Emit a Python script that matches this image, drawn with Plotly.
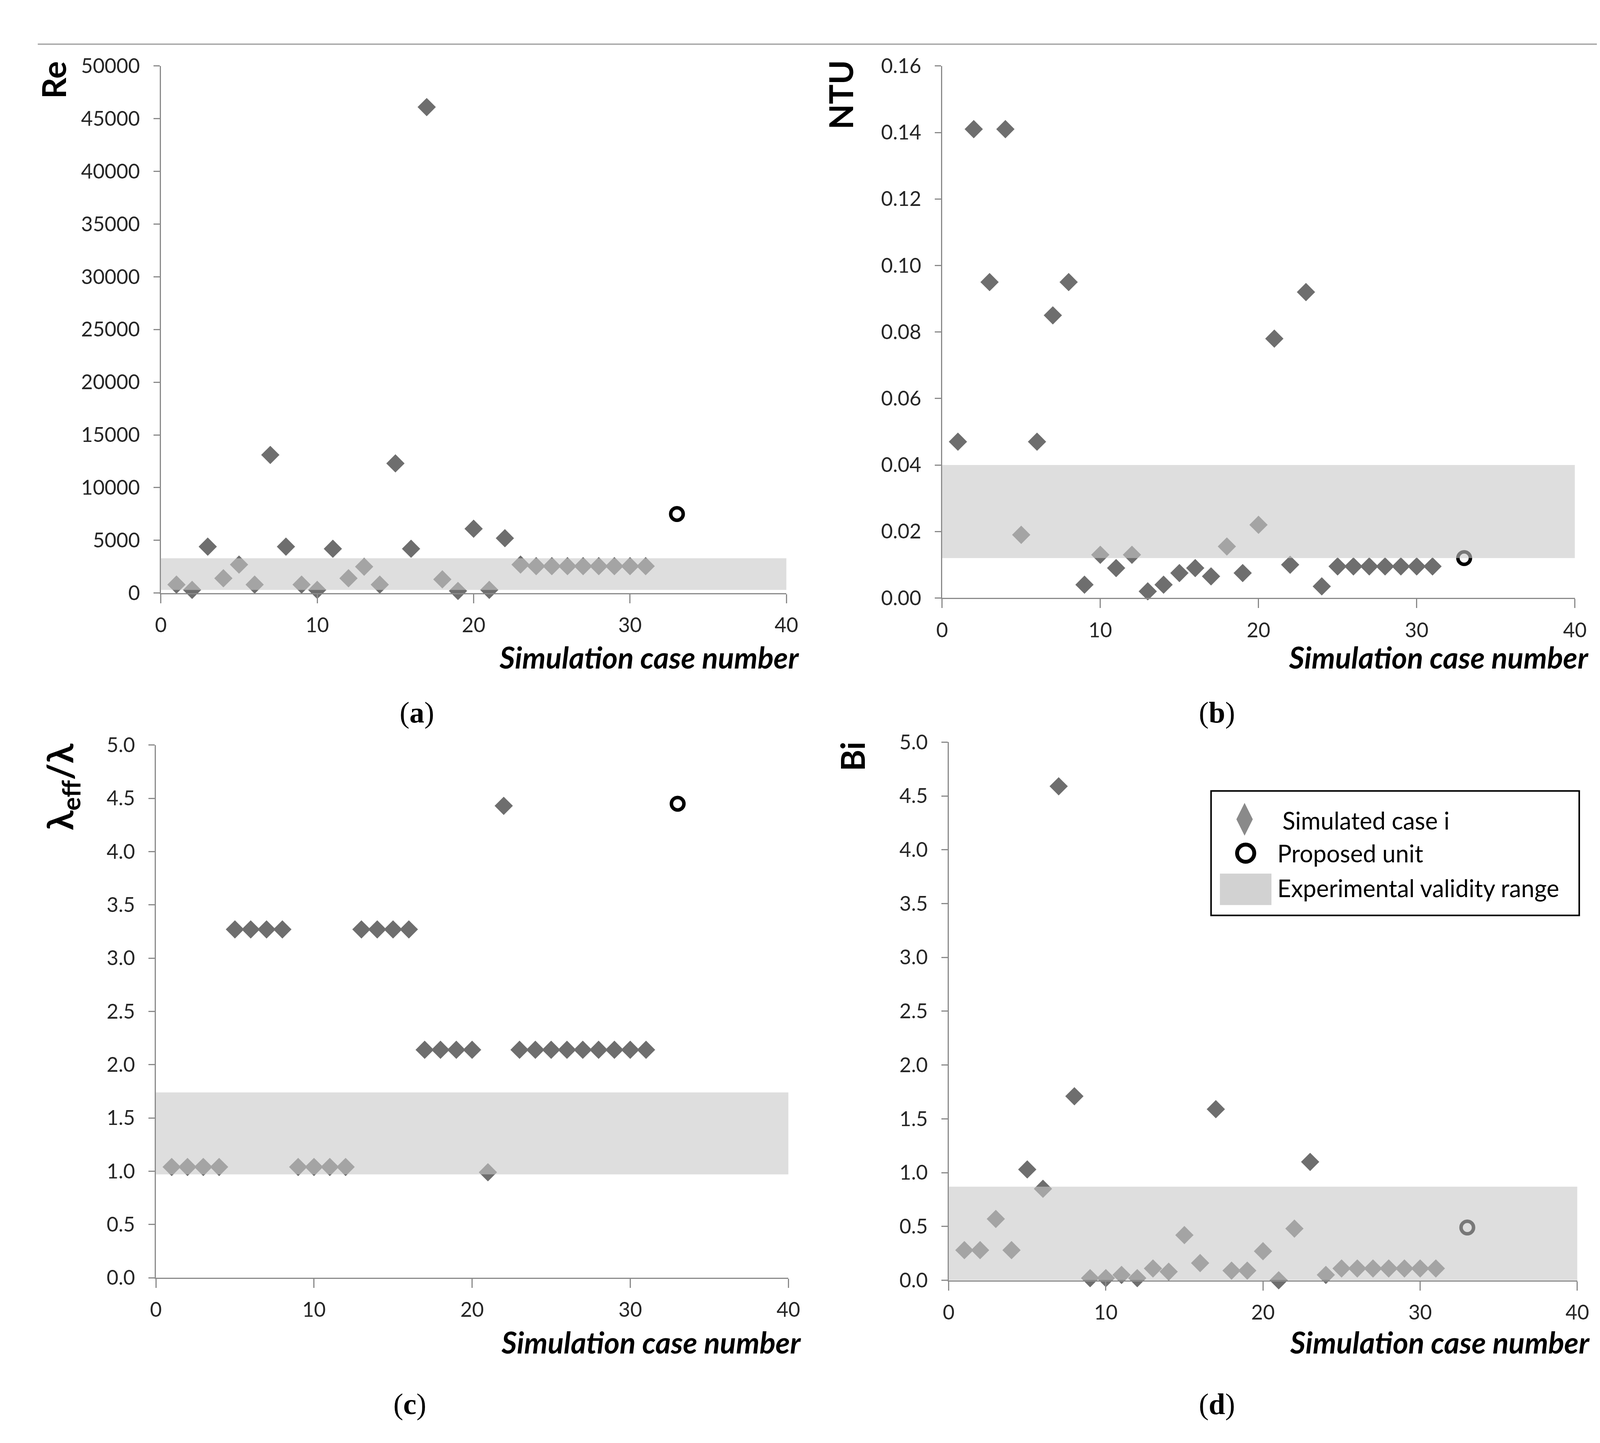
import plotly.graph_objects as go

# simulation cases 1..31 and the proposed unit (case 33)
cases = [1, 2, 3, 4, 5, 6, 7, 8, 9, 10, 11, 12, 13, 14, 15, 16,
         17, 18, 19, 20, 21, 22, 23, 24, 25, 26, 27, 28, 29, 30, 31]
proposed_case = [33]

re_vals = [800, 300, 4400, 1400, 2700, 800, 13100, 4400, 800, 300, 4200,
           1400, 2500, 800, 12300, 4200, 46100, 1300, 200, 6100, 300, 5200,
           2700, 2550, 2550, 2550, 2550, 2550, 2550, 2550, 2550]
ntu_vals = [0.047, 0.141, 0.095, 0.141, 0.019, 0.047, 0.085, 0.095, 0.004,
            0.013, 0.009, 0.013, 0.002, 0.004, 0.0075, 0.009, 0.0065, 0.0155,
            0.0075, 0.022, 0.078, 0.010, 0.092, 0.0035, 0.0095, 0.0095,
            0.0095, 0.0095, 0.0095, 0.0095, 0.0095]
lam_vals = [1.04, 1.04, 1.04, 1.04, 3.27, 3.27, 3.27, 3.27, 1.04, 1.04, 1.04,
            1.04, 3.27, 3.27, 3.27, 3.27, 2.14, 2.14, 2.14, 2.14, 0.99, 4.43,
            2.14, 2.14, 2.14, 2.14, 2.14, 2.14, 2.14, 2.14, 2.14]
bi_vals = [0.28, 0.28, 0.57, 0.28, 1.03, 0.85, 4.59, 1.71, 0.02, 0.02, 0.05,
           0.02, 0.11, 0.08, 0.42, 0.16, 1.59, 0.09, 0.09, 0.27, 0.00, 0.48,
           1.10, 0.05, 0.11, 0.11, 0.11, 0.11, 0.11, 0.11, 0.11]

proposed_re = [7500]
proposed_ntu = [0.012]
proposed_lam = [4.45]
proposed_bi = [0.49]

# experimental validity ranges (y low, y high) and their x extent
band_re = [300, 3300]
band_ntu = [0.012, 0.040]
band_lam = [0.97, 1.74]
band_bi = [0, 0.87]
band_x = [-0.2, 40]
band_x_c = [0, 40.3]

y_ranges = [[0, 50000], [0, 0.16], [0, 5], [0, 5]]
y_dticks = [5000, 0.02, 0.5, 0.5]
y_formats = ["d", ".2f", ".1f", ".1f"]
y_titles = ["Re", "NTU", "λ<sub>eff</sub>/λ", "Bi"]
panel_labels = ["(<b>a</b>)", "(<b>b</b>)", "(<b>c</b>)", "(<b>d</b>)"]

FONT = "Lato"
MARK = "#6e6e6e"
AXC = "#8a8a8a"
TXT = "#262626"

series = [re_vals, ntu_vals, lam_vals, bi_vals]
proposed = [proposed_re, proposed_ntu, proposed_lam, proposed_bi]
bands = [band_re, band_ntu, band_lam, band_bi]
band_xs = [band_x, band_x, band_x_c, band_x]

x_domains = [[0.0949, 0.4859], [0.5832, 0.9787], [0.0918, 0.4871], [0.5873, 0.9802]]
y_domains = [[0.5933, 0.9648], [0.5898, 0.9648], [0.1107, 0.4861], [0.1089, 0.4882]]
ytitle_pos = [(0.0275, 0.9548), (0.5197, 0.9445), (0.0331, 0.4565), (0.5269, 0.4782)]
ytitle_size = [84, 84, 92, 84]
xtitle_pos = [(0.4943, 0.5483), (0.9877, 0.5483), (0.4955, 0.0655), (0.9886, 0.0655)]
label_pos = [(0.255, 0.509), (0.755, 0.509), (0.2504, 0.0217), (0.755, 0.0217)]

fig = go.Figure()
annotations = []
shapes = []
layout_axes = {}

for i in range(4):
    n = "" if i == 0 else str(i + 1)
    xa, ya = "x" + n, "y" + n
    fig.add_trace(go.Scatter(
        x=cases, y=series[i], xaxis=xa, yaxis=ya, mode="markers",
        marker=dict(symbol="diamond", size=36, color=MARK),
        cliponaxis=False, showlegend=False,
    ))
    fig.add_trace(go.Scatter(
        x=proposed_case, y=proposed[i], xaxis=xa, yaxis=ya, mode="markers",
        marker=dict(symbol="circle-open", size=32, color="black",
                    line=dict(width=9, color="black")),
        cliponaxis=False, showlegend=False,
    ))
    shapes.append(dict(
        type="rect", xref=xa, yref=ya, layer="above",
        x0=band_xs[i][0], x1=band_xs[i][1], y0=bands[i][0], y1=bands[i][1],
        fillcolor="#c8c8c8", opacity=0.6, line=dict(width=0),
    ))
    layout_axes["xaxis" + n] = dict(
        domain=x_domains[i], anchor=ya, range=[0, 40], dtick=10,
        showgrid=False, zeroline=False, showline=True, linecolor=AXC,
        linewidth=3, ticks="outside", ticklen=23, tickwidth=3, tickcolor=AXC,
        ticklabelstandoff=12, tickfont=dict(family=FONT, size=52, color=TXT),
    )
    layout_axes["yaxis" + n] = dict(
        domain=y_domains[i], anchor=xa, range=y_ranges[i], dtick=y_dticks[i],
        tickformat=y_formats[i], showgrid=False, zeroline=False, showline=True,
        linecolor=AXC, linewidth=3, ticks="outside", ticklen=16, tickwidth=3,
        tickcolor=AXC, ticklabelstandoff=24,
        tickfont=dict(family=FONT, size=52, color=TXT),
    )
    annotations.append(dict(
        text="<b>" + y_titles[i] + "</b>", xref="paper", yref="paper",
        x=ytitle_pos[i][0], y=ytitle_pos[i][1], textangle=-90,
        xanchor="center", yanchor="middle", showarrow=False,
        font=dict(family=FONT, size=ytitle_size[i], color="black"),
    ))
    annotations.append(dict(
        text="<b><i>Simulation case number</i></b>", xref="paper", yref="paper",
        x=xtitle_pos[i][0], y=xtitle_pos[i][1], xanchor="right", yanchor="middle",
        showarrow=False, font=dict(family=FONT, size=76, color="black"),
    ))
    annotations.append(dict(
        text=panel_labels[i], xref="paper", yref="paper",
        x=label_pos[i][0], y=label_pos[i][1], xanchor="center", yanchor="middle",
        showarrow=False, font=dict(family="Liberation Serif", size=76, color="black"),
    ))

# custom legend drawn on its own hidden axis pair inside panel (d)
leg_x = [0.7513, 0.9814]
leg_y = [0.3661, 0.4538]
layout_axes["xaxis5"] = dict(domain=leg_x, range=[0, 1], anchor="y5",
                             visible=False, fixedrange=True)
layout_axes["yaxis5"] = dict(domain=leg_y, range=[0, 1], anchor="x5",
                             visible=False, fixedrange=True)
fig.add_trace(go.Scatter(
    x=[0.091], y=[0.772], xaxis="x5", yaxis="y5", mode="markers",
    marker=dict(symbol="diamond-tall", size=60, color="#8a8a8a"),
    showlegend=False, hoverinfo="skip",
))
fig.add_trace(go.Scatter(
    x=[0.094], y=[0.5], xaxis="x5", yaxis="y5", mode="markers",
    marker=dict(symbol="circle-open", size=44, color="black",
                line=dict(width=10, color="black")),
    showlegend=False, hoverinfo="skip",
))
shapes.append(dict(type="rect", xref="x5", yref="y5", x0=0.024, x1=0.164,
                   y0=0.083, y1=0.336, fillcolor="#d2d2d2", line=dict(width=0)))
shapes.append(dict(type="rect", xref="paper", yref="paper", x0=leg_x[0], x1=leg_x[1],
                   y0=leg_y[0], y1=leg_y[1], line=dict(color="black", width=4)))
legend_texts = ["Simulated case i", "Proposed unit", "Experimental validity range"]
legend_tx = [0.192, 0.178, 0.178]
legend_ty = [0.765, 0.5, 0.22]
for t, lx, ly in zip(legend_texts, legend_tx, legend_ty):
    annotations.append(dict(
        text=t, xref="x5", yref="y5", x=lx, y=ly, xanchor="left", yanchor="middle",
        showarrow=False, font=dict(family=FONT, size=61, color="black"),
    ))

# thin rule across the top of the page
shapes.append(dict(type="line", xref="paper", yref="paper", x0=0.018, x1=0.9925,
                   y0=0.9802, y1=0.9802, line=dict(color="#9a9a9a", width=3)))

fig.update_layout(
    width=4141, height=3693, margin=dict(l=0, r=0, t=0, b=0),
    paper_bgcolor="white", plot_bgcolor="white",
    annotations=annotations, shapes=shapes, **layout_axes,
)

fig.write_html("out.html")
